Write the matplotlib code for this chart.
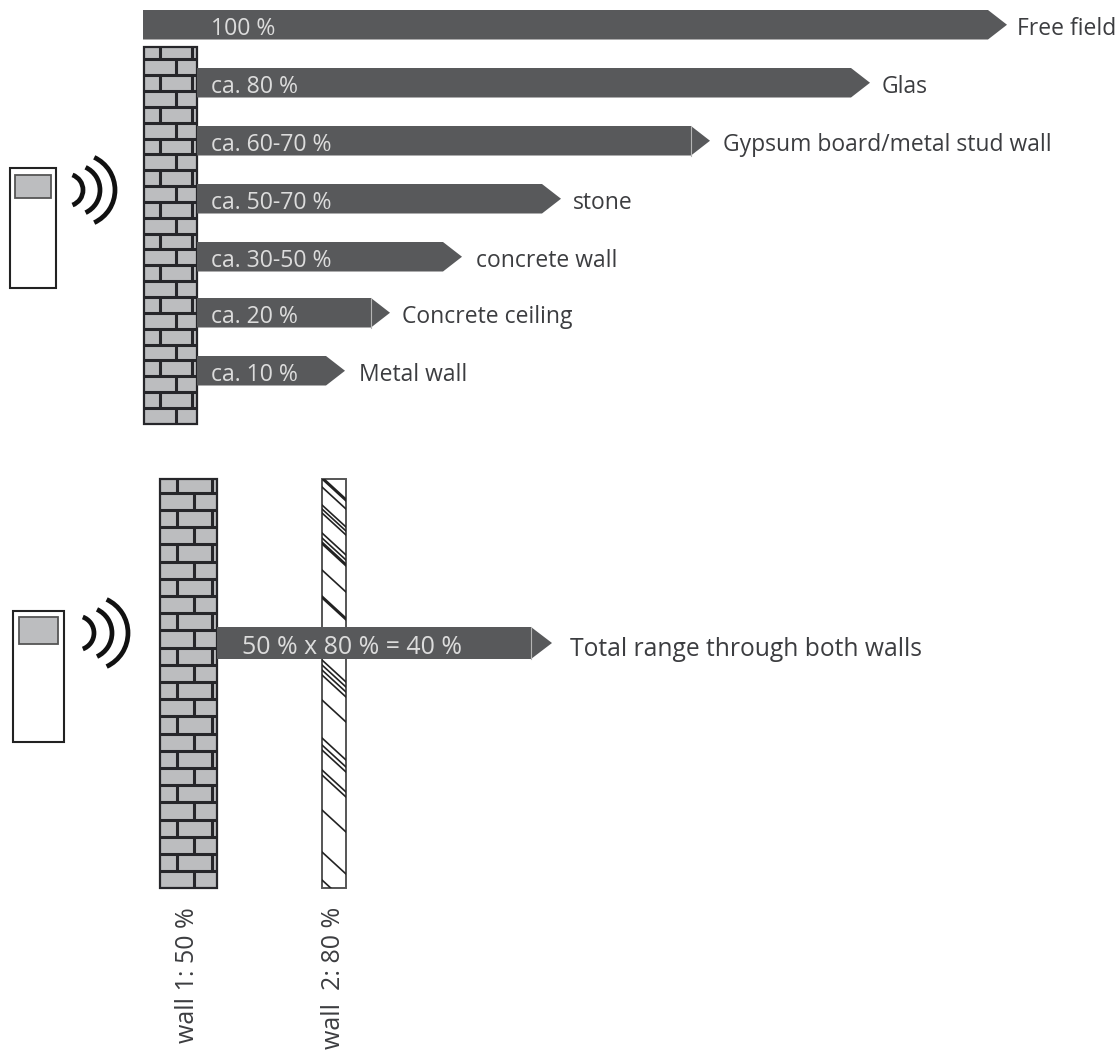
#!/usr/bin/env python3
"""Range of a radio signal through different wall materials."""
import matplotlib

matplotlib.use("Agg")
import matplotlib.pyplot as plt
from matplotlib.patches import Arc, Rectangle

plt.rcParams["font.family"] = ["Open Sans", "DejaVu Sans"]

BAR = "#58595b"
BRICK = "#bcbdbf"
MORTAR = "#26262a"
INK = "#3c3d40"
BAR_TEXT = "#dcdcdc"

# upper diagram in pixels
materials = ["Free field", "Glas", "Gypsum board/metal stud wall", "stone",
             "concrete wall", "Concrete ceiling", "Metal wall"]
ranges = ["100 %", "ca. 80 %", "ca. 60-70 %", "ca. 50-70 %", "ca. 30-50 %",
          "ca. 20 %", "ca. 10 %"]
bar_tops = [10, 68, 126, 184, 242, 298, 356]
bar_starts = [143, 197, 197, 197, 197, 197, 197]
bar_tips = [1007, 870, 710, 561, 462, 390, 345]
label_x = [1017, 882, 723, 573, 476, 402, 359]
head_split = [False, False, True, False, False, True, False]

# lower diagram
total_text = "50 % x 80 % = 40 %"
total_label = "Total range through both walls"
wall_labels = ["wall 1: 50 %", "wall  2: 80 %"]
# left edge y of the diagonal lines of wall 2 and their widths
hatch_y = [478, 487, 505, 509, 513, 533, 538, 543, 570, 597, 660, 665, 670,
           675, 700, 738, 745, 750, 770, 775, 810, 852, 880]
hatch_lw = [2.2, 1.2, 1.2, 1.2, 1.2, 1.2, 1.2, 2.2, 1.2, 2.2, 1.2, 1.2, 1.2,
            1.2, 1.2, 1.2, 1.2, 1.2, 1.2, 1.2, 1.2, 1.2, 1.2]


def arrow(ax, x0, x1, top, height=29.5, head=19, split=False):
    mid = top + height / 2
    xs = [x0, x1 - head, x1 - head, x1, x1 - head, x1 - head, x0]
    ys = [top, top, top, mid, top + height, top + height, top + height]
    ax.fill(xs, ys, color=BAR, lw=0, zorder=5)
    if split:
        ax.plot([x1 - head] * 2, [top, top + height], color="#b5b5b5", lw=0.8, zorder=6)


def brick_wall(ax, x0, x1, y0, y1, first, pitch, joints_a, joints_b):
    ax.add_patch(Rectangle((x0, y0), x1 - x0, y1 - y0, fc=BRICK, ec=MORTAR, lw=1.6, zorder=2))
    edges = [y0]
    y = first
    while y < y1 - 5:
        edges.append(y)
        y += pitch
    edges.append(y1)
    ax.hlines(edges[1:-1], x0, x1, color=MORTAR, lw=2.2, zorder=3)
    for i in range(len(edges) - 1):
        joints = joints_a if i % 2 == 0 else joints_b
        ax.vlines(joints, edges[i], edges[i + 1], color=MORTAR, lw=2.2, zorder=3)


def device(ax, x, y, w, h, screen, cy, arcs):
    ax.add_patch(Rectangle((x, y), w, h, fc="white", ec="#222222", lw=1.5, zorder=2))
    ax.add_patch(Rectangle(screen[:2], screen[2], screen[3], fc=BRICK, ec="#555555", lw=1.3, zorder=3))
    for cx, r, ang in arcs:
        ax.add_patch(Arc((cx, cy), 2 * r, 2 * r, theta1=-ang, theta2=ang, color="#111111", lw=3.4, zorder=3))


fig = plt.figure(figsize=(11.19, 10.5), dpi=100)
ax = fig.add_axes([0, 0, 1, 1])
ax.set_xlim(0, 1119)
ax.set_ylim(1050, 0)
ax.axis("off")

device(ax, 10, 168, 46, 120, (15, 175, 36, 23), 190,
       [(67, 16, 70), (75, 25, 65), (79, 36, 65)])
brick_wall(ax, 144, 197, 47, 424, 59.3, 15.85, [160, 192], [176])

for name, text, top, x0, x1, lx, split in zip(materials, ranges, bar_tops, bar_starts,
                                               bar_tips, label_x, head_split):
    arrow(ax, x0, x1, top, split=split)
    ax.text(211, top + 19, text, color=BAR_TEXT, fontsize=16.6, va="center", ha="left", zorder=7)
    ax.text(lx, top + 19, name, color=INK, fontsize=16.5, va="center", ha="left", zorder=7)

device(ax, 13, 611, 51, 131, (19, 617, 39, 27), 633,
       [(77, 17, 70), (86, 26, 65), (91, 37, 65)])
brick_wall(ax, 160, 217, 479, 888, 492.7, 17.2, [177, 212], [194])

# wall 2, white strip with diagonal lines
frame = Rectangle((322, 479), 24, 409, fc="white", ec="#555555", lw=1.4, zorder=2)
ax.add_patch(frame)
for y, lw in zip(hatch_y, hatch_lw):
    line, = ax.plot([322, 346], [y, y + 22], color="#222222", lw=lw, zorder=3)
    line.set_clip_path(frame)

arrow(ax, 217, 552, 627, height=32, head=21, split=True)
ax.text(242, 647.5, total_text, color=BAR_TEXT, fontsize=17.9, va="center", ha="left", zorder=7)
ax.text(570, 649.5, total_label, color=INK, fontsize=17.7, va="center", ha="left", zorder=7)

ax.text(187, 907, wall_labels[0], color=INK, fontsize=18, rotation=90, va="top", ha="center")
ax.text(333, 907, wall_labels[1], color=INK, fontsize=18, rotation=90, va="top", ha="center")

fig.savefig("out.png", dpi=100)
